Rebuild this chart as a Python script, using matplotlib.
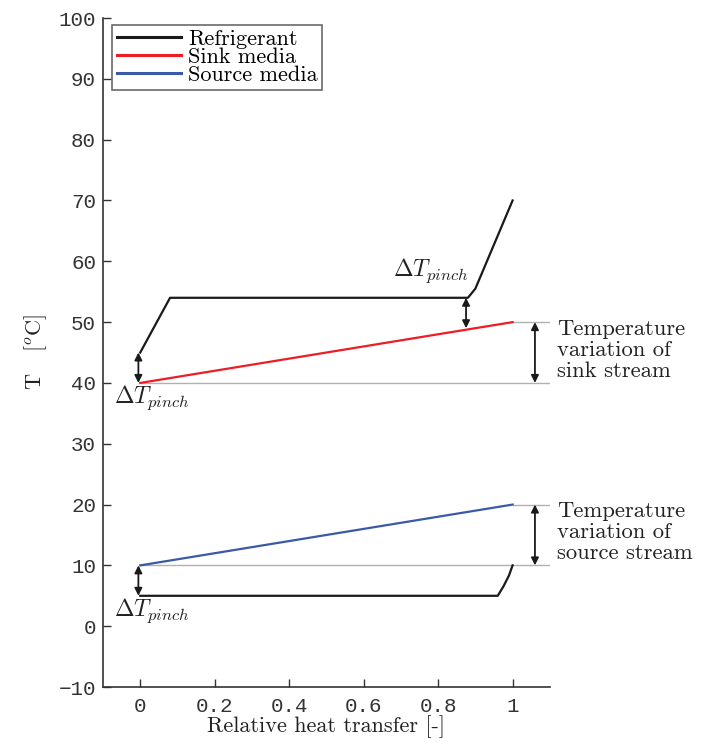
import numpy as np
import matplotlib
matplotlib.use("Agg")
import matplotlib.pyplot as plt

# data
ref_hi_x = [0.0, 0.08, 0.88, 0.90, 1.0]
ref_hi_y = [45, 54, 54, 55.5, 70]
ref_lo_x = [0.0, 0.96, 0.975, 0.99, 1.0]
ref_lo_y = [5, 5, 6.5, 8.3, 10]
sink_x = [0.0, 1.0]
sink_y = [40, 50]
source_x = [0.0, 1.0]
source_y = [10, 20]

x_ticks = [0, 0.2, 0.4, 0.6, 0.8, 1]
x_ticklabels = ["0", "0.2", "0.4", "0.6", "0.8", "1"]
y_ticks = list(range(-10, 101, 10))

plt.rcParams['mathtext.fontset'] = 'cm'
serif = 'cmr10'
mono = 'Liberation Mono'
txt = '#222222'

fig = plt.figure(figsize=(7.07, 7.42), dpi=100)
ax = fig.add_axes([0.1457, 0.0741, 0.632, 0.9016])

# gray guide lines
grey = '#b0b0b0'
ax.plot([1.0, 1.1], [50, 50], color=grey, lw=1)
ax.plot([0.0, 1.1], [40, 40], color=grey, lw=1)
ax.plot([1.0, 1.1], [20, 20], color=grey, lw=1)
ax.plot([0.0, 1.1], [10, 10], color=grey, lw=1)

ax.plot(ref_hi_x, ref_hi_y, color='#1a1a1a', lw=1.6, label='Refrigerant')
ax.plot(sink_x, sink_y, color='#ee1c25', lw=1.6, label='Sink media')
ax.plot(source_x, source_y, color='#3a5aa8', lw=1.6, label='Source media')
ax.plot(ref_lo_x, ref_lo_y, color='#1a1a1a', lw=1.6)


def darrow(x, y1, y2):
    ax.annotate('', xy=(x, y1), xytext=(x, y2),
                arrowprops=dict(arrowstyle='<|-|>', color='#1a1a1a', lw=1.3,
                                mutation_scale=11, shrinkA=0, shrinkB=0))


darrow(-0.005, 40, 45)
darrow(0.875, 49, 54)
darrow(1.06, 40, 50)
darrow(-0.005, 5, 10)
darrow(1.06, 10, 20)

pinch = r'$\Delta T_{pinch}$'
ax.text(0.68, 58.4, pinch, fontsize=17, ha='left', va='center', color=txt)
ax.text(-0.07, 37.6, pinch, fontsize=17, ha='left', va='center', color=txt)
ax.text(-0.07, 2.6, pinch, fontsize=17, ha='left', va='center', color=txt)

ax.text(1.12, 45.4, 'Temperature\nvariation of\nsink stream', fontsize=16.3,
        family=serif, ha='left', va='center', linespacing=1.1, color=txt)
ax.text(1.12, 15.4, 'Temperature\nvariation of\nsource stream', fontsize=16.3,
        family=serif, ha='left', va='center', linespacing=1.1, color=txt)

ax.set_xlim(-0.1, 1.1)
ax.set_ylim(-10, 100)
ax.set_xticks(x_ticks)
ax.set_xticklabels(x_ticklabels)
ax.set_yticks(y_ticks)
ax.yaxis.set_major_formatter(matplotlib.ticker.FuncFormatter(
    lambda v, p: f"{int(v)}".replace('-', '\u2212')))

ax.tick_params(direction='in', length=6, width=1, colors='#333333',
               labelsize=15)
ax.tick_params(axis='x', pad=7)
ax.tick_params(axis='y', pad=5)
for lab in ax.get_xticklabels() + ax.get_yticklabels():
    lab.set_family(mono)
for s in ['top', 'right']:
    ax.spines[s].set_visible(False)
for s in ['left', 'bottom']:
    ax.spines[s].set_linewidth(1.2)
    ax.spines[s].set_color('#333333')

ax.set_xlabel('Relative heat transfer [-]', family=serif, fontsize=16,
              labelpad=0, color=txt)
ax.set_ylabel('T   [$^o$C]', family=serif, fontsize=16, labelpad=7,
              color=txt)

leg = ax.legend(loc='upper left', bbox_to_anchor=(0.02, 0.99),
                prop={'family': serif, 'size': 16}, frameon=True, fancybox=False,
                edgecolor='#444444', handlelength=2.9, handletextpad=0.3,
                labelspacing=-0.08, borderpad=0.22, borderaxespad=0)
leg.get_frame().set_linewidth(1.2)
for line in leg.get_lines():
    line.set_linewidth(2.2)

fig.savefig('out.png', dpi=100)
